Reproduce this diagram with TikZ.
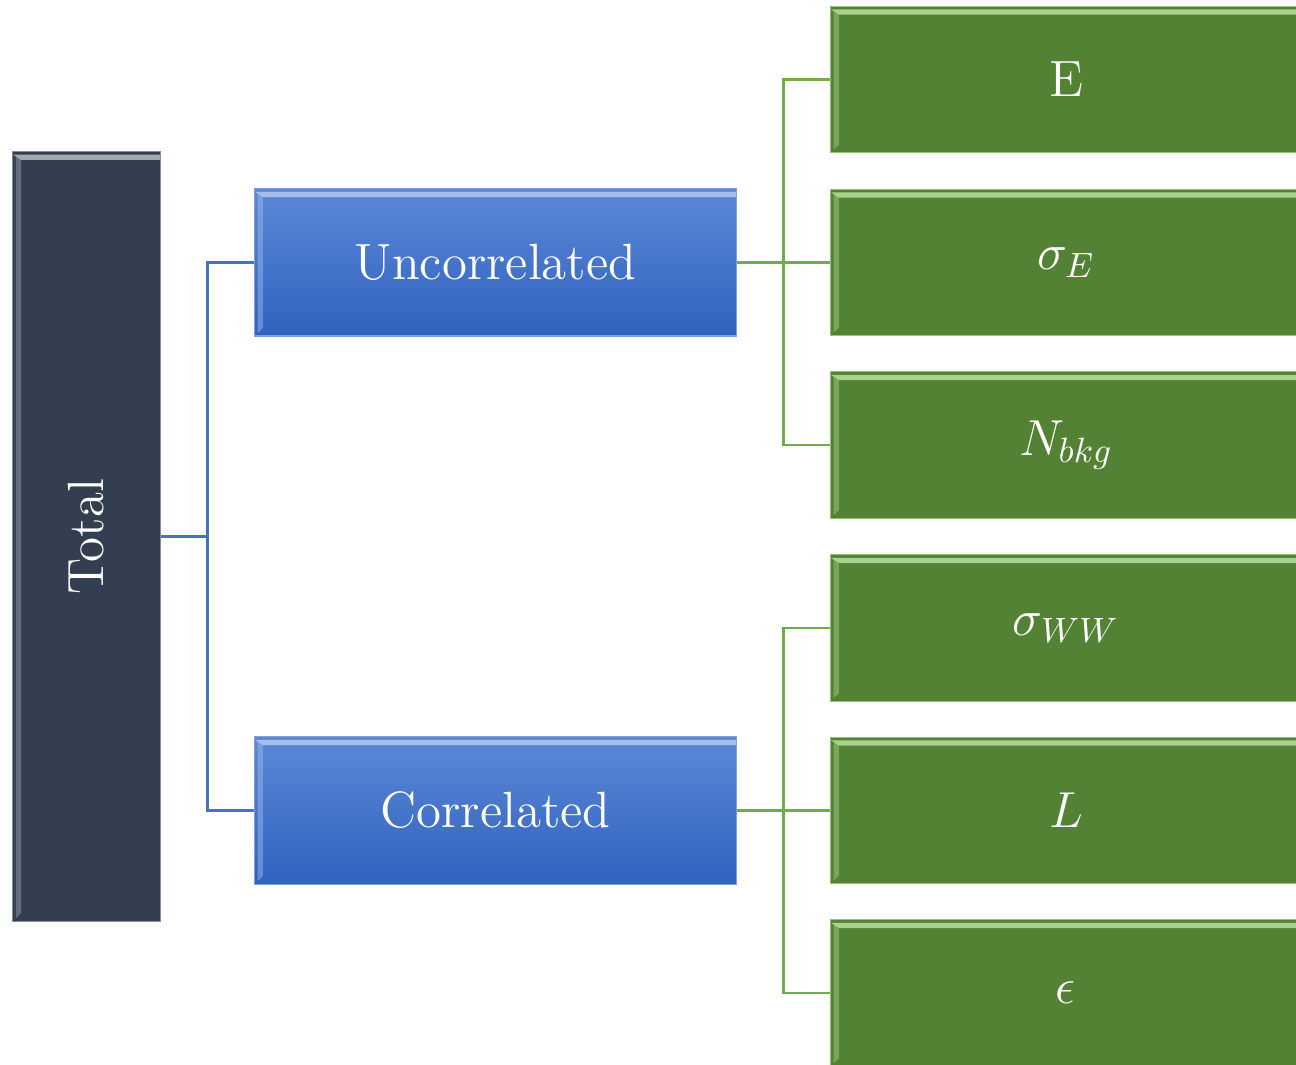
\documentclass[tikz,border=0pt]{standalone}
\usepackage{amsmath}
\usepackage{xcolor}
\usetikzlibrary{shapes,positioning,calc}

\definecolor{totalfill}{RGB}{51,63,80}
\definecolor{bluetop}{RGB}{92,136,214}
\definecolor{bluebot}{RGB}{47,98,191}
\definecolor{leaffill}{RGB}{84,130,53}
\definecolor{leaflight}{RGB}{169,209,142}
\definecolor{linkblue}{RGB}{68,114,196}
\definecolor{linkgreen}{RGB}{112,173,71}

\tikzset{
  box/.style={rectangle, text=white, inner sep=0pt,
    font=\fontsize{14.5}{17}\selectfont},
  % light band along the top and left edge
  bevel/.style={path picture={
      \fill[#1] ([yshift=-0.8pt]path picture bounding box.north west)
        -- ([yshift=-0.8pt]path picture bounding box.north east)
        -- ([yshift=-2.3pt]path picture bounding box.north east)
        -- ([xshift=2.3pt,yshift=-2.3pt]path picture bounding box.north west) -- cycle;
      \fill[#1, opacity=0.45] ([xshift=0.8pt,yshift=-0.8pt]path picture bounding box.north west)
        -- ([xshift=2.3pt,yshift=-2.3pt]path picture bounding box.north west)
        -- ([xshift=2.3pt,yshift=2.3pt]path picture bounding box.south west)
        -- ([xshift=0.8pt,yshift=0.8pt]path picture bounding box.south west) -- cycle;
  }},
  totalbox/.style={box, fill=totalfill, draw=totalfill!60!white, line width=0.3pt,
    bevel=totalfill!45!white, minimum width=1.47cm, minimum height=7.69cm},
  groupbox/.style={box, top color=bluetop, bottom color=bluebot,
    draw=bluetop!80!white, line width=0.3pt,
    bevel=bluetop!55!white, minimum width=4.81cm, minimum height=1.47cm},
  leafbox/.style={box, fill=leaffill, draw=leaflight!80!leaffill, line width=0.3pt,
    bevel=leaflight, minimum width=4.7cm, minimum height=1.46cm},
  bluelink/.style={draw=linkblue, line width=0.7pt},
  greenlink/.style={draw=linkgreen, line width=0.6pt},
}

\begin{document}
\begin{tikzpicture}[x=0.01cm, y=-0.01cm]
  \useasboundingbox (0,0) rectangle (1296,1065);
  \clip (0,0) rectangle (1296,1065);

  % root
  \node[totalbox] (total) at (86.5,536.5) {\rotatebox{90}{Total}};

  % two groups
  \node[groupbox] (unc) at (495.5,262.5) {Uncorrelated};
  \node[groupbox] (cor) at (495.5,810.5) {Correlated};

  % leaves
  \foreach \name/\y/\lab in {e/79.5/{E}, sige/262.5/{$\sigma_E$}, nbkg/445/{$N_{bkg}$},
                             sigww/628/{$\sigma_{WW}$}, lum/810.5/{$L$}, eff/993/{$\epsilon$}}
    \node[leafbox] (\name) at (1066,\y) {\lab};

  % root to groups
  \draw[bluelink, line width=0.9pt] (total.east) -- ($(total.east)!0.5!(unc.west |- total.east)$) coordinate (tj);
  \draw[bluelink] (tj) |- (unc.west);
  \draw[bluelink] (tj) |- (cor.west);

  % uncorrelated leaves
  \draw[greenlink, line width=1.1pt] (unc.east) -- (unc.east -| sige.west);
  \coordinate (uj) at ($(unc.east)!0.5!(unc.east -| sige.west)$);
  \draw[greenlink] (uj) |- (e.west);
  \draw[greenlink] (uj) |- (nbkg.west);

  % correlated leaves
  \draw[greenlink, line width=1.1pt] (cor.east) -- (cor.east -| lum.west);
  \coordinate (cj) at ($(cor.east)!0.5!(cor.east -| lum.west)$);
  \draw[greenlink] (cj) |- (sigww.west);
  \draw[greenlink] (cj) |- (eff.west);
\end{tikzpicture}
\end{document}
